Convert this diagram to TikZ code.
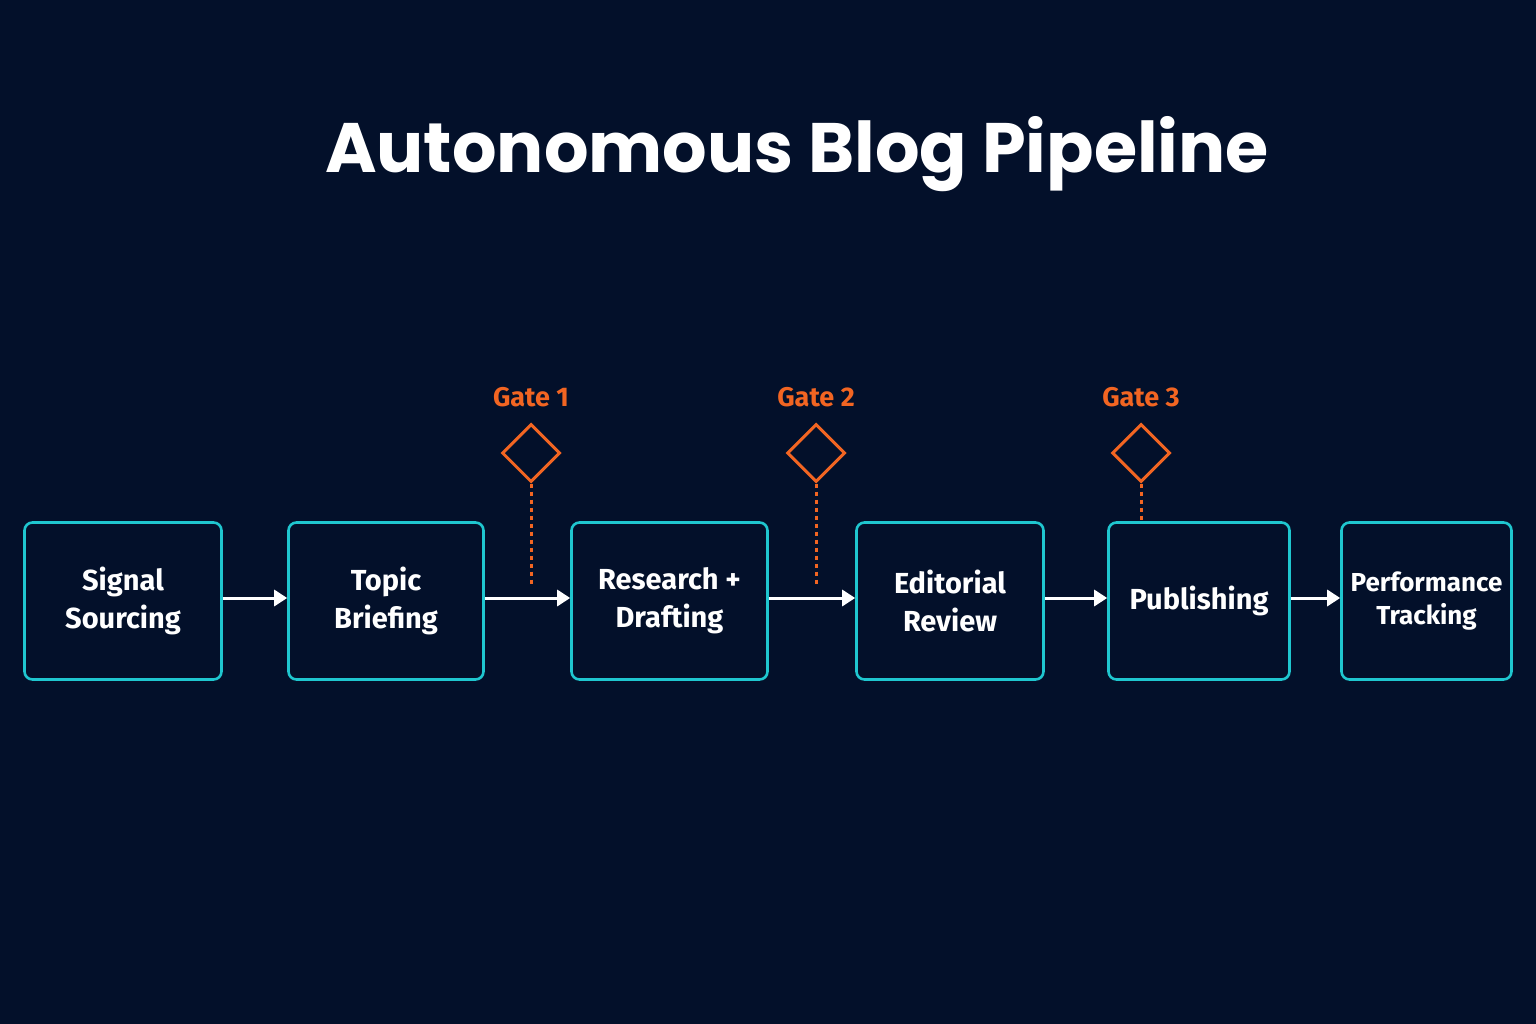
\documentclass[tikz,border=0pt]{standalone}
\usepackage{fontspec}
\setmainfont{Fira Sans}
\newfontfamily\titlefont{Poppins}
\usetikzlibrary{shapes.geometric,arrows.meta}
\definecolor{bg}{HTML}{03102A}
\definecolor{cy}{HTML}{1FC6CF}
\definecolor{og}{HTML}{F26522}
\begin{document}
\begin{tikzpicture}[x=1pt,y=-1pt,
  box/.style={draw=cy,line width=2.6pt,rounded corners=8pt,text=white,font=\fontsize{29}{38}\selectfont\bfseries,align=center,inner sep=0pt},
  flow/.style={white,line width=3pt,-{Triangle[length=13pt,width=16pt]}},
  gate/.style={diamond,draw=og,line width=3pt,minimum width=58pt,minimum height=58pt,inner sep=0pt},
  glabel/.style={text=og,font=\fontsize{27}{30}\selectfont\bfseries},
  dots/.style={og,line width=3pt,dash pattern=on 4pt off 4pt}]
\fill[bg] (0,0) rectangle (1536,1024);
\useasboundingbox (0,0) rectangle (1536,1024);
\node[text=white,font=\titlefont\fontsize{70}{74}\selectfont\bfseries] (title) at (797,154) {Autonomous Blog Pipeline};
\node[box,minimum width=197pt,minimum height=157pt] (b1) at (123,601) {Signal\\Sourcing};
\node[box,minimum width=195pt,minimum height=157pt] (b2) at (386,601) {Topic\\Briefing};
\node[box,minimum width=196pt,minimum height=157pt] (b3) at (669.5,601) {Research +\\Drafting};
\node[box,minimum width=187pt,minimum height=157pt] (b4) at (950,601) {Editorial\\Review};
\node[box,minimum width=181pt,minimum height=157pt] (b5) at (1199,601) {Publishing};
\node[box,minimum width=170pt,minimum height=157pt,font=\fontsize{26}{33}\selectfont\bfseries] (b6) at (1426.5,601) {Performance\\Tracking};
\foreach \a/\b in {b1/b2,b2/b3,b3/b4,b4/b5,b5/b6}
  \draw[flow] (\a.east|-0,598) -- (\b.west|-0,598);
\node[gate] (g1) at (531,453) {};
\node[gate] (g2) at (816,453) {};
\node[gate] (g3) at (1141,453) {};
\node[glabel] (l1) at (531,397) {Gate 1};
\node[glabel] (l2) at (816,397) {Gate 2};
\node[glabel] (l3) at (1141,397) {Gate 3};
\coordinate (e1) at (531,585);
\coordinate (e2) at (816,585);
\draw[dots] (g1.south) -- (e1);
\draw[dots] (g2.south) -- (e2);
\draw[dots] (g3.south) -- (b5.north-|g3);
\end{tikzpicture}
\end{document}
